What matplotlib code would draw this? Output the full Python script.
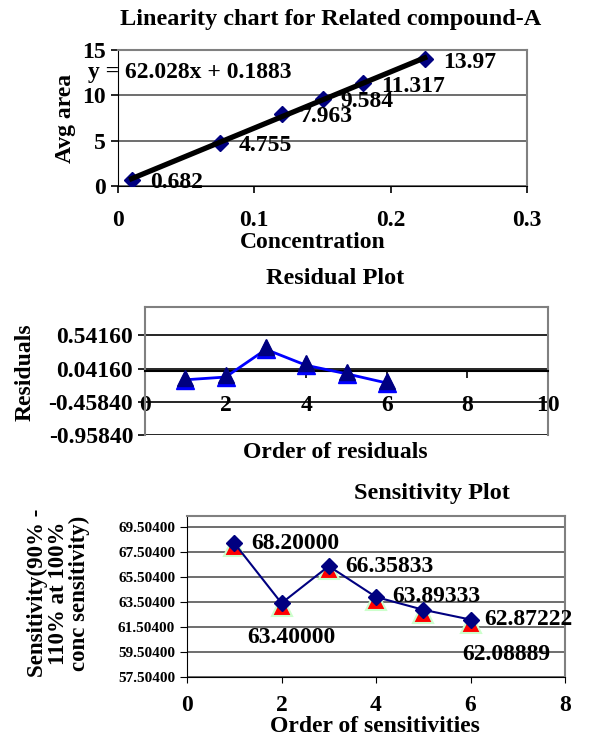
import matplotlib
matplotlib.use("Agg")
import matplotlib.pyplot as plt

plt.rcParams['font.family'] = ['Liberation Serif', 'DejaVu Serif']
plt.rcParams['font.weight'] = 'bold'

# linearity data
conc = [0.01, 0.075, 0.12, 0.15, 0.18, 0.225]
avg_area = [0.682, 4.755, 7.963, 9.584, 11.317, 13.97]
slope, intercept = 62.028, 0.1883

# residuals
order = [1, 2, 3, 4, 5, 6]
residuals = [-0.1266, -0.0854, 0.3313, 0.0915, -0.0360, -0.1750]

# sensitivity
sens = [68.20000, 63.40000, 66.35833, 63.89333, 62.87222, 62.08889]
sens_labels = ['68.20000', '63.40000', '66.35833', '63.89333', '62.87222', '62.08889']
sens_ticks = [57.504, 59.504, 61.504, 63.504, 65.504, 67.504, 69.504]

W, H = 603, 732
fig = plt.figure(figsize=(W / 100, H / 100), dpi=100)
FS = 17
TFS = 17.5
GRAY = '#808080'

def px(x, y):
    return x / W, 1 - y / H

def rect(l, t, r, b):
    return [l / W, 1 - b / H, (r - l) / W, (b - t) / H]

def box(ax):
    for s in ['top', 'right']:
        ax.spines[s].set_color(GRAY)
        ax.spines[s].set_linewidth(1.5)

# ---- linearity chart
ax1 = fig.add_axes(rect(118, 50, 527, 186))
ax1.plot(conc, avg_area, 'D', color='#000080', ms=8, zorder=3)
fit_x = [conc[0], conc[-1]]
fit_y = [slope * v + intercept for v in fit_x]
ax1.plot(fit_x, fit_y, color='black', lw=3.8, zorder=4)
for xv, yv in zip(conc, avg_area):
    ax1.annotate(f'{yv:g}', (xv, yv), xytext=(13, -2), textcoords='offset points',
                 fontsize=FS, va='center', ha='left', zorder=5)
ax1.set_xlim(0, 0.3)
ax1.set_ylim(0, 15)
ax1.set_xticks([0, 0.1, 0.2, 0.3])
ax1.set_xticklabels(['0', '0.1', '0.2', '0.3'])
ax1.set_yticks([0, 5, 10, 15])
ax1.tick_params(labelsize=FS, length=5, width=1.2)
ax1.tick_params(axis='x', pad=12)
ax1.grid(axis='y', color='#555555', lw=1.2)
ax1.set_axisbelow(True)
box(ax1)
ax1.text(-0.022, 12.55, f'y = {slope}x + {intercept}', fontsize=FS, ha='left', va='center',
         transform=ax1.transData, clip_on=False, zorder=6)
fig.text(*px(331, 20), 'Linearity chart for Related compound-A', fontsize=TFS, ha='center', va='center')
fig.text(*px(313, 243), 'Concentration', fontsize=FS, ha='center', va='center')
fig.text(*px(65, 118), 'Avg area', fontsize=FS, ha='center', va='center', rotation=90)

# ---- residual plot
ax2 = fig.add_axes(rect(145, 307, 548, 435))
ax2.plot(order, residuals, '-^', color='#0000FF', ms=13, lw=2, zorder=3)
ax2.plot(order, [r + 0.03 for r in residuals], '^', color='#000080', ms=11, zorder=4, lw=0)
ax2.set_xlim(0, 10)
ax2.set_ylim(-0.9584, 0.97)
ax2.set_yticks([-0.9584, -0.4584, 0.0416, 0.5416])
ax2.set_yticklabels(['-0.95840', '-0.45840', '0.04160', '0.54160'])
ax2.set_xticks([0, 2, 4, 6, 8, 10])
ax2.spines['bottom'].set_position(('data', 0))
ax2.spines['bottom'].set_linewidth(1.5)
ax2.spines['left'].set_color(GRAY)
ax2.spines['left'].set_linewidth(1.5)
ax2.tick_params(labelsize=FS, length=5, width=1.2)
ax2.tick_params(axis='x', pad=12)
ax2.grid(axis='y', color='black', lw=1.2)
ax2.set_axisbelow(True)
box(ax2)
fig.text(*px(335, 278), 'Residual Plot', fontsize=TFS, ha='center', va='center')
fig.text(*px(335, 452), 'Order of residuals', fontsize=FS, ha='center', va='center')
fig.text(*px(25, 372), 'Residuals', fontsize=FS, ha='center', va='center', rotation=90)

# ---- sensitivity plot
ax3 = fig.add_axes(rect(187, 516, 565, 677))
ax3.plot(order, [s - 0.25 for s in sens], '^', color='#FF0000', mec='#CCFFCC', mew=1.5, ms=14, zorder=3)
ax3.plot(order, sens, '-D', color='#000080', ms=8, lw=1.5, zorder=4)
offsets = [(12, 0), (-25, -25), (12, 0), (12, 0), (10, 0), (-6, -25)]
label_pos = [0, 1, 2, 3, 5, 5]
for lab, (dx, dy), i in zip(sens_labels, offsets, label_pos):
    ax3.annotate(lab, (order[i], sens[i]), xytext=(dx, dy), textcoords='offset points',
                 fontsize=FS, ha='left', va='center', zorder=5)
ax3.set_xlim(0, 8)
ax3.set_ylim(57.504, 70.36)
ax3.set_yticks(sens_ticks)
ax3.set_yticklabels([f'{t:.5f}' for t in sens_ticks], fontsize=11)
ax3.set_xticks([0, 2, 4, 6, 8])
ax3.tick_params(axis='x', labelsize=FS, length=4, pad=9)
ax3.tick_params(axis='y', length=5)
ax3.grid(axis='y', color='#555555', lw=1.2)
ax3.set_axisbelow(True)
box(ax3)
fig.text(*px(432, 493), 'Sensitivity Plot', fontsize=TFS, ha='center', va='center')
fig.text(*px(375, 726), 'Order of sensitivities', fontsize=FS, ha='center', va='center')
fig.text(*px(58, 593), 'Sensitivity(90% -\n110% at 100%\nconc sensitivity)', fontsize=16.5,
         ha='center', va='center', rotation=90, linespacing=1.0)

fig.savefig('out.png', dpi=100)
